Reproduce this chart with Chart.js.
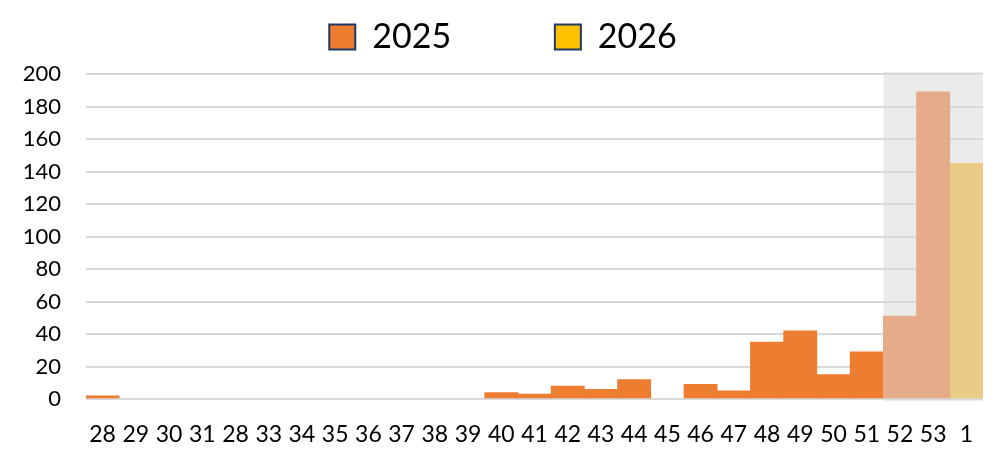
<!DOCTYPE html>
<html>
<head>
<meta charset="utf-8">
<script src="https://cdn.jsdelivr.net/npm/chart.js@4.4.1/dist/chart.umd.min.js"></script>
<style>
  html, body { margin: 0; padding: 0; background: #fff; }
  #wrap { width: 1008px; height: 458px; position: relative; }
</style>
</head>
<body>
<div id="wrap"><canvas id="weekChart"></canvas></div>
<script>
// week numbers as printed on the original axis (the second "28" is in the source too)
const weeks = ['28', '29', '30', '31', '28', '33', '34', '35', '36', '37', '38', '39', '40', '41',
    '42', '43', '44', '45', '46', '47', '48', '49', '50', '51', '52', '53', '1'];
const cases2025 = [2, 0, 0, 0, 0, 0, 0, 0, 0, 0, 0, 0, 4, 3,
    8, 6, 12, 0, 9, 5, 35, 42, 15, 29, 51, 189, null];
const cases2026 = [null, null, null, null, null, null, null, null, null, null, null, null, null, null,
    null, null, null, null, null, null, null, null, null, null, null, null, 145];
const yTicks = [0, 20, 40, 60, 80, 100, 120, 140, 160, 180, 200];
const shadeFrom = '52'; // last weeks, still incomplete, are greyed out

const ORANGE = '#ed7d31', ORANGE_FADED = '#e6ac8a';
const YELLOW = '#ffc000', YELLOW_FADED = '#eacc86';
const shadeIndex = weeks.lastIndexOf(shadeFrom);

// grey band behind the last weeks, drawn before the grid
const shadePlugin = {
    id: 'shade',
    beforeDraw(chart) {
        const x = chart.scales.x, area = chart.chartArea, ctx = chart.ctx;
        const half = (x.getPixelForValue(1) - x.getPixelForValue(0)) / 2;
        const left = x.getPixelForValue(shadeIndex) - half;
        ctx.save();
        ctx.fillStyle = '#ebebeb';
        ctx.fillRect(left, area.top - 2, area.right - left, area.bottom - area.top + 4);
        ctx.restore();
    }
};

// a bit more room under the legend
const legendGap = {
    id: 'legendGap',
    beforeInit(chart) {
        const fit = chart.legend.fit;
        chart.legend.fit = function () {
            fit.bind(chart.legend)();
            this.height += 10;
        };
    }
};

const legendColors = [ORANGE, YELLOW];

// zero weeks get no bar at all (chart.js would still paint a 1px sliver)
function barColor(plain, faded) {
    return (c) => {
        if (c.raw === 0) return 'rgba(0,0,0,0)';
        return c.dataIndex >= shadeIndex ? faded : plain;
    };
}

new Chart(document.getElementById('weekChart'), {
    type: 'bar',
    data: {
        labels: weeks,
        datasets: [{
            label: '2025',
            data: cases2025,
            backgroundColor: barColor(ORANGE, ORANGE_FADED),
            barPercentage: 1,
            categoryPercentage: 1
        }, {
            label: '2026',
            data: cases2026,
            backgroundColor: barColor(YELLOW, YELLOW_FADED),
            barPercentage: 1,
            categoryPercentage: 1
        }]
    },
    options: {
        responsive: true,
        maintainAspectRatio: false,
        animation: false,
        layout: {
            padding: { top: 10, left: 23, right: 25, bottom: 9 }
        },
        scales: {
            x: {
                stacked: true,
                grid: { display: false },
                border: { display: false },
                afterFit: (axis) => { axis.height = 50; },
                ticks: {
                    color: '#000',
                    padding: 14,
                    maxRotation: 0,
                    autoSkip: false,
                    font: { family: 'Lato', size: 23 }
                }
            },
            y: {
                stacked: true,
                min: 0,
                max: 200,
                afterBuildTicks: (axis) => { axis.ticks = yTicks.map(v => ({ value: v })); },
                afterFit: (axis) => { axis.width = 63; },
                grid: { color: '#d9d9d9', lineWidth: 2, drawTicks: false },
                border: { display: false },
                ticks: {
                    color: '#000',
                    padding: 25,
                    font: { family: 'Lato', size: 22 }
                }
            }
        },
        plugins: {
            tooltip: { enabled: false },
            legend: {
                position: 'top',
                labels: {
                    boxWidth: 26,
                    boxHeight: 25,
                    padding: 10,
                    color: '#000',
                    font: { family: 'Lato', size: 34 },
                    generateLabels: (chart) => chart.data.datasets.map((ds, i) => ({
                        text: i === 0 ? ds.label + '\u2002\u2002\u2002\u2002\u2002 ' : ds.label,
                        fillStyle: legendColors[i],
                        strokeStyle: '#1f3864',
                        lineWidth: 2,
                        datasetIndex: i,
                        hidden: false
                    }))
                }
            }
        }
    },
    plugins: [shadePlugin, legendGap]
});
</script>
</body>
</html>
